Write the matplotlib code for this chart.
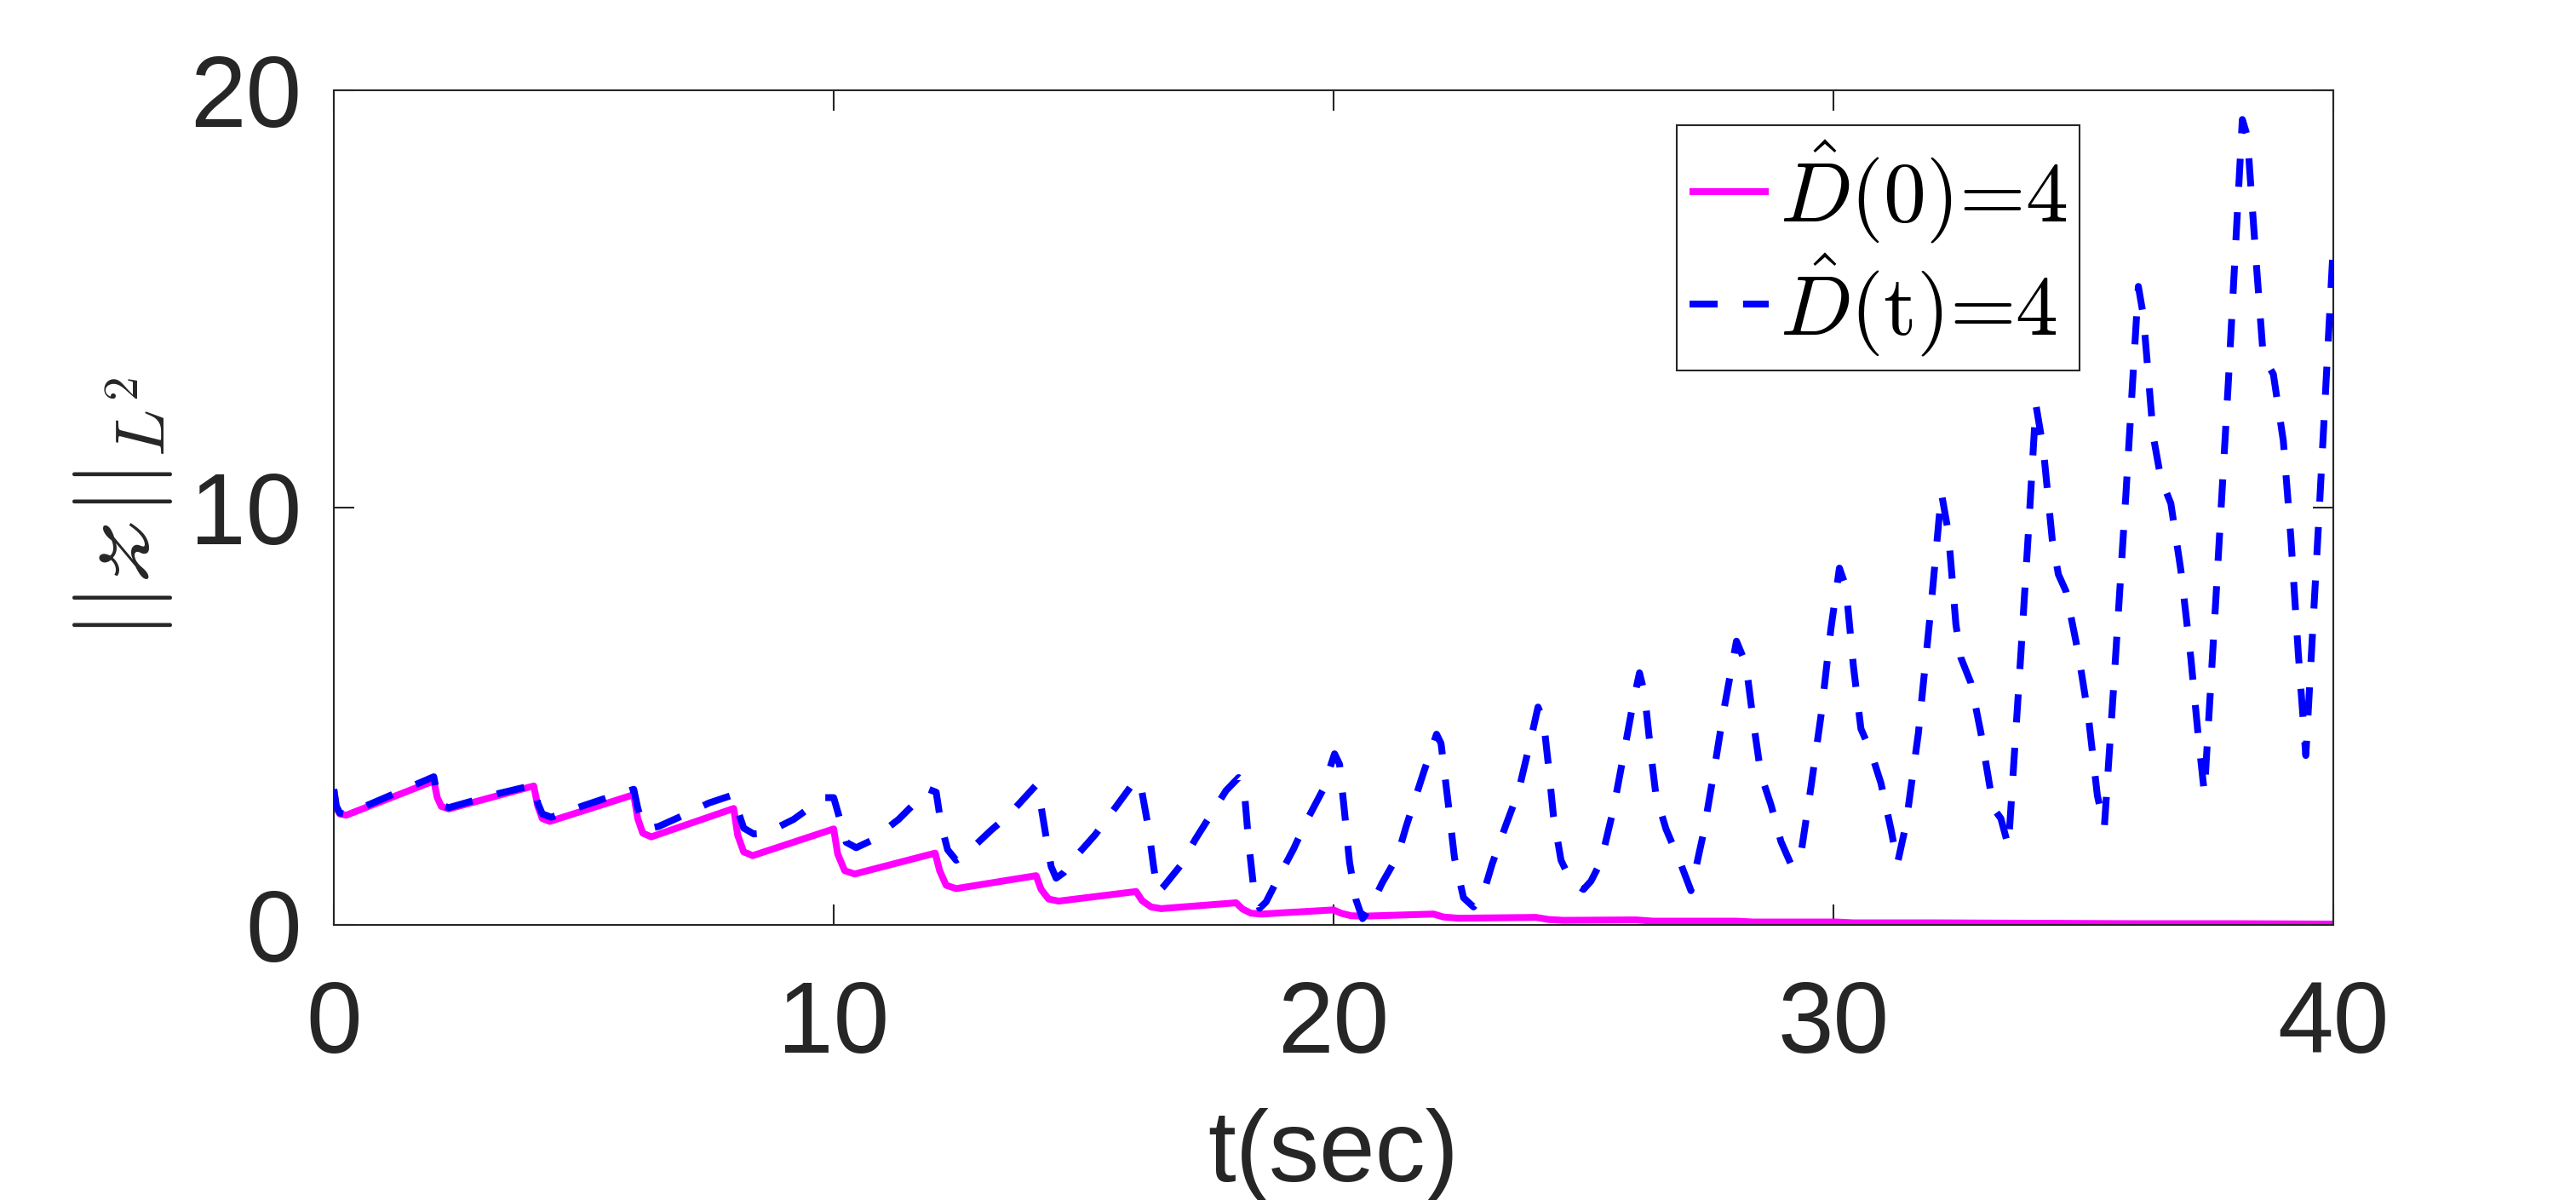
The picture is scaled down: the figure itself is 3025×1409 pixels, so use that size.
import matplotlib
matplotlib.use("Agg")
import matplotlib.pyplot as plt
from matplotlib.font_manager import FontProperties

# ---------------- data ----------------
t_d0 = [0.00, 0.05, 0.12, 0.25, 2.00, 2.07, 2.15, 2.30, 4.00, 4.08, 4.17, 4.32,
        6.00, 6.08, 6.18, 6.35, 8.00, 8.08, 8.20, 8.38, 10.00, 10.08, 10.22, 10.42,
        12.03, 12.12, 12.25, 12.45, 14.05, 14.15, 14.30, 14.50, 16.05, 16.17, 16.35, 16.55,
        18.05, 18.18, 18.35, 18.55, 20.00, 20.15, 20.35, 20.60, 22.00, 22.20, 22.50,
        24.05, 24.30, 24.60, 26.05, 26.40, 28.05, 28.40, 30.05, 30.40, 32.00, 34.00,
        36.00, 38.00, 40.00]
z_d0 = [3.25, 2.80, 2.66, 2.63, 3.45, 3.05, 2.84, 2.78, 3.33, 2.85, 2.55, 2.48,
        3.12, 2.55, 2.20, 2.11, 2.79, 2.15, 1.75, 1.66, 2.30, 1.70, 1.30, 1.22,
        1.72, 1.30, 0.95, 0.87, 1.18, 0.85, 0.62, 0.57, 0.80, 0.58, 0.43, 0.39,
        0.53, 0.38, 0.28, 0.26, 0.36, 0.28, 0.22, 0.21, 0.26, 0.19, 0.16,
        0.18, 0.13, 0.11, 0.12, 0.09, 0.09, 0.07, 0.07, 0.05, 0.05, 0.04,
        0.03, 0.03, 0.02]

t_dt = [0.00, 0.05, 0.12, 0.25, 2.00, 2.07, 2.15, 2.30, 3.30, 4.00, 4.08, 4.17, 4.35,
        5.00, 5.45, 6.00, 6.08, 6.18, 6.35, 6.50, 7.00, 7.50, 8.00, 8.08, 8.20, 8.40,
        8.65, 9.20, 9.80, 10.00, 10.12, 10.25, 10.45, 10.75, 11.30, 11.90, 12.05, 12.15,
        12.28, 12.45, 12.60, 13.15, 13.50, 14.05, 14.12, 14.25, 14.35, 14.45, 14.60,
        14.80, 15.23, 15.64, 16.05, 16.15, 16.30, 16.40, 16.48, 16.60, 16.93, 17.24,
        17.85, 18.10, 18.20, 18.30, 18.40, 18.52, 18.65, 18.90, 19.20, 19.45, 19.78,
        20.02, 20.12, 20.22, 20.32, 20.45, 20.58, 20.75, 20.97, 21.28, 21.45, 21.80,
        22.06, 22.15, 22.30, 22.42, 22.60, 22.80, 22.98, 23.17, 23.45, 23.70, 23.95,
        24.09, 24.20, 24.30, 24.40, 24.55, 24.75, 25.00, 25.15, 25.35, 25.60, 25.80,
        26.00, 26.12, 26.22, 26.35, 26.45, 26.65, 26.95, 27.15, 27.40, 27.60, 27.80,
        28.06, 28.25, 28.40, 28.55, 28.75, 28.95, 29.17, 29.35, 29.55, 29.75, 29.95,
        30.12, 30.25, 30.40, 30.55, 30.75, 30.95, 31.15, 31.28, 31.45, 31.70, 31.95,
        32.16, 32.30, 32.45, 32.55, 32.75, 32.95, 33.20, 33.35, 33.50, 33.75, 33.90,
        34.05, 34.20, 34.38, 34.50, 34.65, 34.90, 35.10, 35.28, 35.42, 35.60, 35.85,
        36.10, 36.20, 36.40, 36.55, 36.75, 36.95, 37.15, 37.30, 37.42, 37.65, 37.90,
        38.18, 38.28, 38.45, 38.60, 38.80, 39.00, 39.15, 39.30, 39.45, 39.70, 40.00]
z_dt = [3.25, 2.85, 2.68, 2.65, 3.55, 3.10, 2.87, 2.81, 3.15, 3.35, 2.92, 2.66, 2.58,
        2.86, 3.04, 3.25, 2.80, 2.40, 2.32, 2.36, 2.63, 2.92, 3.12, 2.75, 2.32, 2.18,
        2.20, 2.53, 3.05, 3.05, 2.55, 1.98, 1.85, 2.02, 2.53, 3.25, 3.18, 2.40,
        1.80, 1.55, 1.65, 2.27, 2.63, 3.35, 3.05, 2.10, 1.40, 1.12, 1.25,
        1.58, 2.16, 2.82, 3.49, 3.30, 2.30, 1.40, 0.78, 0.92, 1.41, 2.06,
        3.22, 3.53, 3.42, 2.00, 0.90, 0.40, 0.55, 1.14, 1.82, 2.47, 3.22,
        4.10, 3.85, 2.70, 1.50, 0.60, 0.15, 0.45, 1.00, 1.65, 2.35, 3.65,
        4.57, 4.35, 2.85, 1.60, 0.65, 0.43, 0.68, 1.45, 2.40, 3.20, 4.47,
        5.22, 4.90, 3.80, 2.60, 1.55, 1.05, 0.85, 1.05, 1.52, 2.78, 4.06,
        5.37, 6.04, 5.55, 4.10, 3.10, 2.30, 1.45, 0.82, 2.20, 3.60, 5.10,
        6.80, 6.25, 4.85, 3.60, 2.88, 2.00, 1.40, 1.70, 3.30, 5.00, 7.10,
        8.55, 8.10, 6.20, 4.70, 4.15, 3.40, 2.30, 1.47, 2.40, 4.60, 7.60,
        10.35, 9.40, 7.20, 6.40, 5.80, 4.60, 2.80, 2.55, 1.88, 6.50, 9.40,
        12.47, 11.40, 9.20, 8.40, 8.00, 6.50, 5.00, 3.10, 2.35, 5.60, 10.30,
        15.30, 14.60, 11.70, 10.70, 10.10, 8.50, 6.40, 4.50, 3.16, 7.80, 13.00,
        19.30, 18.90, 16.00, 13.60, 13.20, 11.60, 9.30, 6.50, 4.06, 9.50, 16.30]

x_ticks = [0, 10, 20, 30, 40]
y_ticks = [0, 10, 20]
label_d0 = r'$\hat{D}$(0)=4'
label_dt = r'$\hat{D}$(t)=4'
x_label = 't(sec)'
y_label = r'$||\mathscr{z}||_{L^2}$'

# ---------------- style ----------------
plt.rcParams['font.family'] = ['Liberation Sans', 'DejaVu Sans']
plt.rcParams['mathtext.fontset'] = 'cm'
gray = '#262626'

W, H = 3025, 1409
fig = plt.figure(figsize=(W / 100, H / 100), dpi=100)
ax = fig.add_axes([392 / W, 1 - 1086 / H, (2740 - 392) / W, (1086 - 106) / H])

ax.plot(t_d0, z_d0, color=(1, 0, 1), lw=5.8, solid_capstyle='butt',
        solid_joinstyle='round', label=label_d0, zorder=2)
ln, = ax.plot(t_dt, z_dt, color=(0, 0, 1), lw=5.8, linestyle='--',
              dash_capstyle='butt', label=label_dt, zorder=3)
ln.set_dashes([4.1, 3.7])

ax.set_xlim(0, 40)
ax.set_ylim(0, 20)
ax.set_xticks(x_ticks)
ax.set_yticks(y_ticks)

for sp in ax.spines.values():
    sp.set_color(gray)
    sp.set_linewidth(1.5)

ax.tick_params(axis='both', which='both', direction='in', length=17, width=1.5,
               color=gray, labelcolor=gray, labelsize=85,
               top=True, right=True)
ax.tick_params(axis='x', pad=46)
ax.tick_params(axis='y', pad=27)

ax.set_xlabel(x_label, fontsize=85, color=gray, labelpad=29)
ax.set_ylabel(y_label, fontsize=84, color=gray, math_fontfamily='cm')
ax.yaxis.set_label_coords(-0.0796, 0.5)

leg_prop = FontProperties(family='cmr10', size=72)
leg = ax.legend(loc='upper left', bbox_to_anchor=(1969 / W, 1 - 147 / H),
                bbox_transform=fig.transFigure, borderaxespad=0,
                prop=leg_prop, handlelength=0.93, handletextpad=0.13,
                borderpad=0.15, labelspacing=0.08, fancybox=False,
                framealpha=1, edgecolor=gray)
leg.get_frame().set_linewidth(1.5)

fig.savefig('out.png', dpi=100, facecolor='white')
